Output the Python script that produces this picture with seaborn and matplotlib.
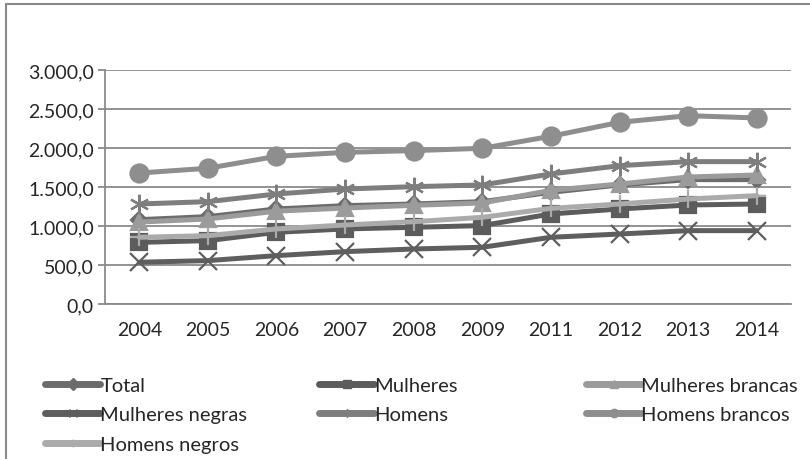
import pandas as pd
import matplotlib.pyplot as plt
import matplotlib.ticker as mticker
from matplotlib.lines import Line2D
import seaborn as sns

# data
anos = ['2004', '2005', '2006', '2007', '2008', '2009', '2011', '2012', '2013', '2014']
total = [1081, 1120, 1218, 1261, 1282, 1312, 1432, 1526, 1594, 1594]
mulheres = [790, 812, 919, 962, 983, 1005, 1154, 1218, 1269, 1282]
mulheres_brancas = [1050, 1090, 1190, 1230, 1265, 1295, 1457, 1538, 1628, 1654]
mulheres_negras = [535, 556, 620, 671, 705, 727, 855, 897, 940, 940]
homens = [1282, 1312, 1410, 1474, 1504, 1526, 1667, 1773, 1825, 1825]
homens_brancos = [1679, 1740, 1893, 1944, 1966, 1996, 2150, 2329, 2414, 2385]
homens_negros = [855, 876, 962, 1013, 1055, 1111, 1226, 1282, 1346, 1389]

series = ['Total', 'Mulheres', 'Mulheres brancas', 'Mulheres negras',
          'Homens', 'Homens brancos', 'Homens negros']
valores = [total, mulheres, mulheres_brancas, mulheres_negras,
           homens, homens_brancos, homens_negros]
cores = ['#6c6c6c', '#5c5c5c', '#9b9b9b', '#5e5e5e', '#7e7e7e', '#8e8e8e', '#ababab']
marcadores = ['D', 's', '^', 'x', (6, 2, 0), 'o', '+']
tam = [8, 11, 11, 13, 14, 13, 13]

df = pd.DataFrame({'Ano': anos * len(series),
                   'Valor': sum(valores, []),
                   'Serie': [s for s in series for _ in anos]})

sns.set_style('white')
plt.rcParams['font.family'] = ['Lato', 'DejaVu Sans']

fig = plt.figure(figsize=(8.1, 4.6), dpi=100)
ax = fig.add_axes([0.1296, 0.337, 0.847, 0.5087])

for s, c, m, ms in zip(series, cores, marcadores, tam):
    sns.lineplot(data=df[df['Serie'] == s], x='Ano', y='Valor', color=c,
                 marker=m, markersize=ms, linewidth=3.6, ax=ax,
                 markeredgecolor=c, markeredgewidth=1.6, legend=False)

ax.set_ylim(0, 3000)
ax.set_xlim(-0.5, len(anos) - 0.5)
ax.yaxis.set_major_locator(mticker.MultipleLocator(500))
ax.yaxis.set_major_formatter(mticker.FuncFormatter(
    lambda v, p: f'{v:,.1f}'.replace(',', 'X').replace('.', ',').replace('X', '.')))
ax.grid(axis='y', color='#8a8a8a', linewidth=1.3)
ax.set_axisbelow(True)
ax.set_xlabel('')
ax.set_ylabel('')
for side in ['top', 'right']:
    ax.spines[side].set_visible(False)
for side in ['left', 'bottom']:
    ax.spines[side].set_color('#8a8a8a')
    ax.spines[side].set_linewidth(1.3)

ax.xaxis.set_minor_locator(mticker.FixedLocator([i - 0.5 for i in range(len(anos) + 1)]))
ax.tick_params(axis='x', which='major', length=0, pad=12, labelsize=14, colors='#262626')
ax.tick_params(axis='x', which='minor', length=5, width=1.3, color='#8a8a8a', direction='out')
ax.tick_params(axis='y', length=5, width=1.3, color='#8a8a8a', pad=3, labelsize=14,
               labelcolor='#262626', left=True)

# legend, three columns placed by hand
handles = [Line2D([], [], color=c, marker=m, markersize=6, linewidth=5,
                  markeredgecolor=c) for c, m in zip(cores, marcadores)]
cols = [[0, 3, 6], [1, 4], [2, 5]]
xs = [0.0556, 0.3936, 0.7236]
for col, x in zip(cols, xs):
    fig.legend([handles[i] for i in col], [series[i] for i in col],
               loc='upper left', bbox_to_anchor=(x, 0.179), frameon=False,
               fontsize=14.5, handlelength=2.75, handletextpad=0.0,
               labelspacing=0.62, borderaxespad=0, borderpad=0)

# outer frame (cut on the right and bottom as in the image)
fig.add_artist(Line2D([0.0075, 0.0075], [0, 0.989], color='#8a8a8a', linewidth=1.5))
fig.add_artist(Line2D([0.0075, 1.0], [0.989, 0.989], color='#8a8a8a', linewidth=1.5))

fig.savefig('out.png', dpi=100)
